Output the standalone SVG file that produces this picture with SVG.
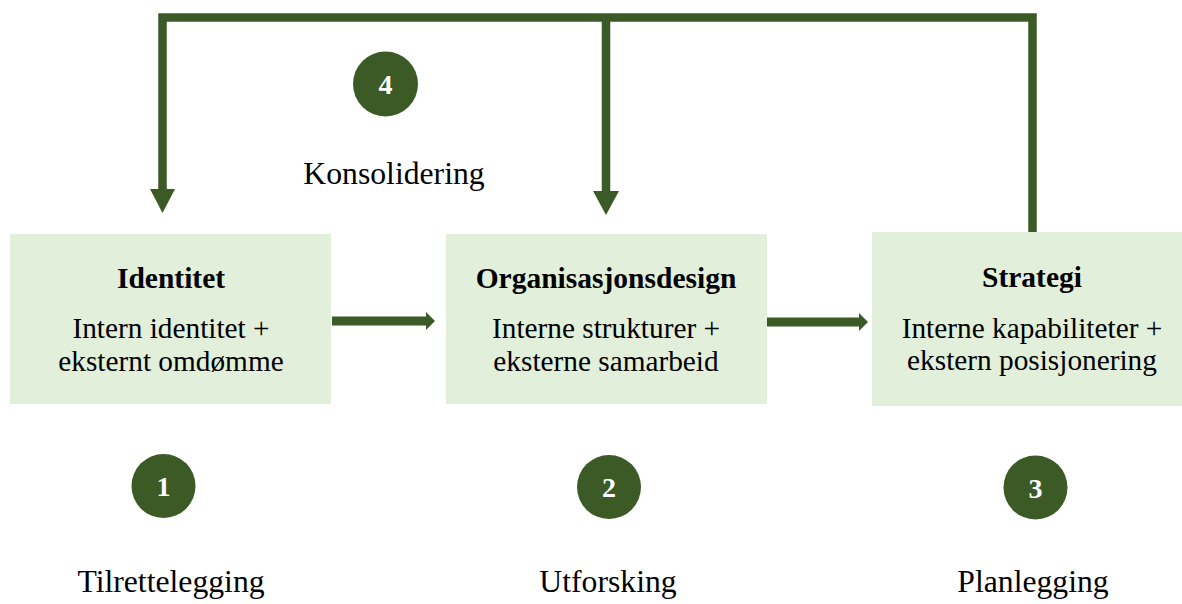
<svg xmlns="http://www.w3.org/2000/svg" width="1182" height="604" viewBox="0 0 1182 604">
<style>
.box{fill:#e2efda}
.title{font-family:"Liberation Serif","Times New Roman",serif;font-weight:bold;font-size:29.5px;fill:#000;text-anchor:middle}
.body{font-family:"Liberation Serif","Times New Roman",serif;font-size:29.3px;fill:#000;text-anchor:middle}
.label{font-family:"Liberation Serif","Times New Roman",serif;font-size:31.7px;fill:#000;text-anchor:middle}
.num{font-family:"Liberation Serif","Times New Roman",serif;font-weight:bold;font-size:28px;fill:#fff;text-anchor:middle}
.dot{fill:#3b5a26}
.line{stroke:#3b5a26;fill:none}
.head{fill:#3b5a26}
</style>
<rect width="1182" height="604" fill="#fff"/>
<g id="connectors">
  <path class="line" d="M162.5 190 V17.5 H1032.5 V233" stroke-width="8.5" stroke-linejoin="miter"/>
  <path class="line" d="M606 17.5 V193" stroke-width="8.5"/>
  <polygon class="head" points="150,189 175,189 162.5,213"/>
  <polygon class="head" points="593,191 619,191 606,215"/>
  <path class="line" d="M332 321 H427" stroke-width="9"/>
  <polygon class="head" points="426,312 435,321 426,330"/>
  <path class="line" d="M765 322 H860" stroke-width="9"/>
  <polygon class="head" points="859,313 868,322 859,331"/>
</g>
<g id="node-identitet">
  <rect class="box" x="10" y="234" width="321" height="170"/>
  <text class="title" x="171" y="288">Identitet</text>
  <text class="body" x="171" y="338">Intern identitet +</text>
  <text class="body" x="171" y="371">eksternt omdømme</text>
</g>
<g id="node-organisasjonsdesign">
  <rect class="box" x="446" y="234" width="321" height="170"/>
  <text class="title" x="606" y="288">Organisasjonsdesign</text>
  <text class="body" x="606" y="338">Interne strukturer +</text>
  <text class="body" x="606" y="371">eksterne samarbeid</text>
</g>
<g id="node-strategi">
  <rect class="box" x="872" y="232" width="310" height="174"/>
  <text class="title" x="1032" y="287">Strategi</text>
  <text class="body" x="1032" y="338">Interne kapabiliteter +</text>
  <text class="body" x="1032" y="370">ekstern posisjonering</text>
</g>
<g id="step-1">
  <circle class="dot" cx="163.5" cy="486" r="32"/>
  <text class="num" x="163.5" y="496">1</text>
  <text class="label" x="171" y="592">Tilrettelegging</text>
</g>
<g id="step-2">
  <circle class="dot" cx="609" cy="487" r="32"/>
  <text class="num" x="609" y="497">2</text>
  <text class="label" x="608" y="592">Utforsking</text>
</g>
<g id="step-3">
  <circle class="dot" cx="1035.5" cy="487.5" r="32"/>
  <text class="num" x="1035.5" y="497.5">3</text>
  <text class="label" x="1033" y="592">Planlegging</text>
</g>
<g id="step-4">
  <circle class="dot" cx="385.5" cy="84" r="32.5"/>
  <text class="num" x="385.5" y="94">4</text>
  <text class="label" x="394" y="184">Konsolidering</text>
</g>
</svg>
